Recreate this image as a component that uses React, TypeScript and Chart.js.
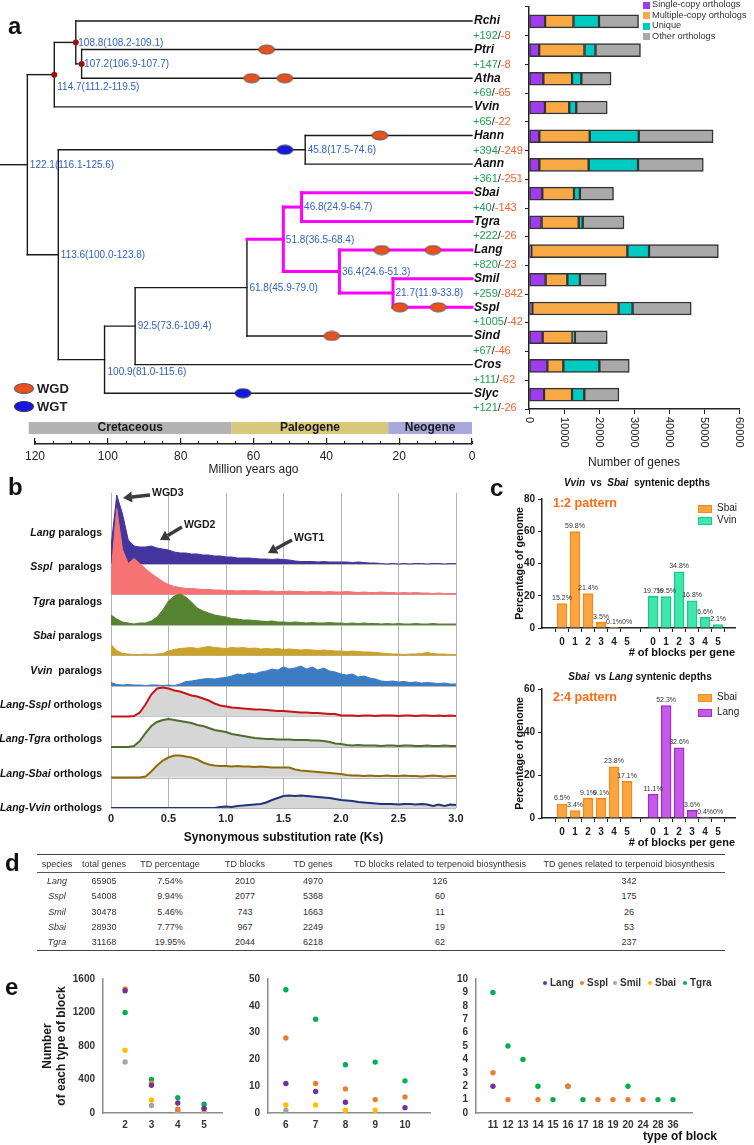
import React, { useEffect, useRef } from 'react';
import { Chart, registerables } from 'chart.js';

Chart.register(...registerables);

const FONT = "'Liberation Sans', Arial, Helvetica, sans-serif";
Chart.defaults.font.family = FONT;
Chart.defaults.color = '#222';

// ---------------- Panel a: dated phylogeny ----------------
const species = ['Rchi', 'Ptri', 'Atha', 'Vvin', 'Hann', 'Aann', 'Sbai', 'Tgra', 'Lang', 'Smil', 'Sspl', 'Sind', 'Cros', 'Slyc'];
const gainedFamilies = [192, 147, 69, 65, 394, 361, 40, 222, 820, 259, 1005, 67, 111, 121];
const lostFamilies = [8, 8, 65, 22, 249, 251, 143, 26, 23, 842, 42, 46, 62, 26];

const nodeIds = ['n107', 'n108', 'n114', 'n45', 'n46', 'n21', 'n36', 'n51', 'n61', 'n92', 'n100', 'n113', 'root'];
const nodeAges = [107.2, 108.8, 114.7, 45.8, 46.8, 21.7, 36.4, 51.8, 61.8, 92.5, 100.9, 113.6, 122.1];
const nodeLow = [106.9, 108.2, 111.2, 17.5, 24.9, 11.9, 24.6, 36.5, 45.9, 73.6, 81.0, 100.0, 116.1];
const nodeHigh = [107.7, 109.1, 119.5, 74.6, 64.7, 33.8, 51.3, 68.4, 79.0, 109.4, 115.6, 123.8, 125.6];
const nodeChildA = ['Ptri', 'Rchi', 'n108', 'Hann', 'Sbai', 'Smil', 'Lang', 'n46', 'n51', 'n61', 'n92', 'n45', 'n114'];
const nodeChildB = ['Atha', 'n107', 'Vvin', 'Aann', 'Tgra', 'Sspl', 'n21', 'n36', 'Sind', 'Cros', 'Slyc', 'n100', 'n113'];
const calibratedNodes = ['root', 'n114', 'n108', 'n107'];
const labelBelowNodes = ['n114', 'n100'];
const highlightedClade = 'n51';
const rootStemAge = 130;

const eventBranch = ['Ptri', 'Atha', 'Atha', 'Hann', 'n45', 'root', 'Lang', 'Lang', 'Sspl', 'Sspl', 'Sind', 'Slyc'];
const eventAge = [56.4, 60.5, 51.4, 25.3, 51.4, 126, 24.8, 10.7, 19.8, 9.3, 38.5, 62.9];
const eventType = ['WGD', 'WGD', 'WGD', 'WGD', 'WGT', 'WGT', 'WGD', 'WGD', 'WGD', 'WGD', 'WGD', 'WGT'];

const eraNames = ['Cretaceous', 'Paleogene', 'Neogene'];
const eraStart = [121.7, 66, 23];
const eraEnd = [66, 23, 0];
const eraColors = ['#b3b3b3', '#d9c77b', '#a8a8dd'];
const timeMajorTicks = [120, 100, 80, 60, 40, 20, 0];
const timeMinorTicks = [0, 5, 10, 15, 20, 25, 30, 35, 40, 45, 50, 55, 60, 65, 70, 75, 80, 85, 90, 95, 100, 105, 110, 115, 120];

// gene composition bars
const geneCategories = ['Single-copy orthologs', 'Multiple-copy orthologs', 'Unique', 'Other orthologs'];
const singleCopy = [4600, 2900, 4100, 4550, 2950, 2950, 3800, 3600, 650, 4750, 950, 3900, 5250, 4300];
const multiCopy = [8100, 12950, 8200, 6950, 14400, 14100, 9050, 10600, 27450, 6200, 24650, 8550, 4550, 8000];
const uniqueGenes = [7300, 3150, 2650, 2000, 14000, 14100, 1700, 1150, 6200, 3600, 4000, 650, 10300, 3500];
const otherOrthologs = [11300, 12850, 8500, 8850, 21250, 18650, 9600, 11800, 19800, 7500, 16750, 9250, 8550, 9900];
const geneColors = ['#a03cf0', '#f9a846', '#00cbc3', '#a9a9a9'];

// ---------------- Panel b: Ks distributions ----------------
const ksBins = [0, 0.05, 0.1, 0.15, 0.2, 0.25, 0.3, 0.35, 0.4, 0.45, 0.5, 0.55, 0.6, 0.65, 0.7, 0.75, 0.8, 0.85, 0.9, 0.95, 1, 1.05, 1.1, 1.15, 1.2, 1.25, 1.3, 1.35, 1.4, 1.45, 1.5, 1.55, 1.6, 1.65, 1.7, 1.75, 1.8, 1.85, 1.9, 1.95, 2, 2.05, 2.1, 2.15, 2.2, 2.25, 2.3, 2.35, 2.4, 2.45, 2.5, 2.55, 2.6, 2.65, 2.7, 2.75, 2.8, 2.85, 2.9, 2.95, 3];
const langParalogs = [1.7, 6.9, 5.0, 2.4, 1.8, 1.7, 1.7, 1.8, 1.6, 1.5, 1.4, 1.2, 1.1, 1.1, 1.0, 1.0, 0.9, 0.9, 0.8, 0.8, 0.7, 0.7, 0.6, 0.6, 0.6, 0.55, 0.5, 0.5, 0.45, 0.5, 0.45, 0.4, 0.3, 0.25, 0.25, 0.25, 0.2, 0.25, 0.2, 0.2, 0.2, 0.2, 0.15, 0.2, 0.15, 0.1, 0.1, 0.05, 0, 0.05, 0, 0.05, 0, 0.05, 0.05, 0, 0.05, 0.05, 0, 0.05, 0.05];
const ssplParalogs = [2.1, 8.6, 4.5, 3.1, 3.6, 3.1, 2.6, 2.1, 1.7, 1.3, 1.0, 0.8, 0.7, 0.6, 0.6, 0.55, 0.5, 0.5, 0.45, 0.45, 0.4, 0.4, 0.35, 0.4, 0.35, 0.4, 0.35, 0.3, 0.35, 0.3, 0.3, 0.35, 0.3, 0.3, 0.25, 0.3, 0.3, 0.25, 0.3, 0.25, 0.25, 0.3, 0.25, 0.2, 0.25, 0.2, 0.2, 0.25, 0.2, 0.2, 0.15, 0.2, 0.15, 0.2, 0.15, 0.15, 0.1, 0.15, 0.1, 0.1, 0.1];
const tgraParalogs = [1.0, 0.6, 0.3, 0.2, 0.1, 0.2, 0.2, 0.4, 0.8, 1.5, 2.4, 2.9, 3.1, 2.8, 2.3, 1.7, 1.4, 1.2, 1.0, 0.9, 0.8, 0.65, 0.6, 0.5, 0.5, 0.45, 0.4, 0.35, 0.4, 0.3, 0.3, 0.25, 0.3, 0.25, 0.2, 0.25, 0.2, 0.2, 0.25, 0.2, 0.2, 0.15, 0.2, 0.15, 0.2, 0.15, 0.15, 0.1, 0.15, 0.1, 0.15, 0.1, 0.1, 0.15, 0.1, 0.1, 0.15, 0.1, 0.1, 0.1, 0.1];
const sbaiParalogs = [1.1, 0.5, 0.2, 0.15, 0.1, 0.1, 0.15, 0.1, 0.15, 0.2, 0.45, 0.6, 0.7, 0.75, 0.8, 0.7, 0.8, 0.9, 0.8, 0.75, 0.7, 0.8, 0.75, 0.8, 0.7, 0.75, 0.65, 0.7, 0.65, 0.7, 0.6, 0.65, 0.6, 0.55, 0.6, 0.55, 0.5, 0.55, 0.5, 0.45, 0.45, 0.4, 0.45, 0.4, 0.35, 0.35, 0.3, 0.25, 0.2, 0.15, 0.15, 0.1, 0.15, 0.15, 0.2, 0.3, 0.2, 0.15, 0.15, 0.1, 0.1];
const vvinParalogs = [0.35, 0.15, 0.1, 0.15, 0.1, 0.1, 0.05, 0.1, 0.1, 0.05, 0.1, 0.05, 0.2, 0.45, 0.5, 0.6, 0.7, 0.75, 0.7, 0.8, 0.85, 1.0, 1.2, 1.1, 1.3, 1.2, 1.4, 1.5, 1.7, 1.6, 1.9, 1.7, 1.8, 2.0, 1.7, 1.9, 1.6, 1.8, 1.5, 1.4, 1.2, 1.1, 1.2, 0.9, 1.0, 0.8, 0.7, 0.5, 0.45, 0.5, 0.4, 0.45, 0.35, 0.4, 0.3, 0.35, 0.3, 0.25, 0.3, 0.2, 0.2];
const langSsplOrthologs = [0, 0, 0, 0, 0.05, 0.4, 1.2, 2.2, 2.8, 2.9, 2.8, 2.6, 2.5, 2.3, 2.1, 2.0, 1.8, 1.6, 1.3, 1.1, 1.0, 0.9, 0.85, 0.8, 0.75, 0.7, 0.7, 0.65, 0.6, 0.55, 0.55, 0.5, 0.45, 0.4, 0.4, 0.35, 0.35, 0.3, 0.25, 0.25, 0.1, 0.1, 0.1, 0.05, 0.1, 0.1, 0.05, 0.1, 0.1, 0.1, 0.05, 0.1, 0.1, 0.05, 0.1, 0.1, 0.05, 0.1, 0.05, 0.1, 0.05];
const langTgraOrthologs = [0, 0, 0, 0, 0.1, 0.6, 1.4, 2.1, 2.5, 2.7, 2.8, 2.7, 2.6, 2.5, 2.4, 2.2, 2.1, 1.9, 1.7, 1.6, 1.5, 1.3, 1.2, 1.1, 1.0, 0.9, 0.85, 0.8, 0.8, 0.75, 0.75, 0.75, 0.7, 0.7, 0.7, 0.65, 0.65, 0.6, 0.5, 0.35, 0.3, 0.2, 0.15, 0.2, 0.15, 0.15, 0.15, 0.1, 0.15, 0.15, 0.1, 0.15, 0.15, 0.1, 0.1, 0.15, 0.1, 0.1, 0.15, 0.1, 0.1];
const langSbaiOrthologs = [0, 0, 0, 0, 0, 0, 0.1, 0.6, 1.2, 1.7, 2.0, 2.2, 2.2, 2.1, 2.0, 1.8, 1.5, 1.3, 1.2, 1.15, 1.15, 1.1, 1.15, 1.1, 1.1, 1.05, 1.1, 1.05, 1.0, 1.0, 1.0, 1.0, 0.8, 0.7, 0.65, 0.6, 0.55, 0.5, 0.45, 0.4, 0.35, 0.25, 0.2, 0.2, 0.15, 0.2, 0.15, 0.15, 0.2, 0.15, 0.15, 0.2, 0.15, 0.15, 0.1, 0.15, 0.2, 0.15, 0.1, 0.15, 0.15];
const langVvinOrthologs = [0, 0, 0, 0, 0, 0, 0, 0, 0, 0, 0, 0, 0, 0, 0, 0, 0, 0, 0, 0.1, 0.15, 0.1, 0.2, 0.25, 0.3, 0.35, 0.4, 0.55, 0.8, 1.0, 1.2, 1.25, 1.2, 1.25, 1.2, 1.15, 1.1, 1.05, 1.0, 0.9, 0.8, 0.75, 0.7, 0.6, 0.55, 0.5, 0.45, 0.4, 0.4, 0.4, 0.35, 0.4, 0.4, 0.35, 0.4, 0.35, 0.2, 0.35, 0.2, 0.35, 0.3];
const ksRowNames = ['Lang', 'Sspl', 'Tgra', 'Sbai', 'Vvin', 'Lang-Sspl', 'Lang-Tgra', 'Lang-Sbai', 'Lang-Vvin'];
const ksRowKinds = ['paralogs', 'paralogs', 'paralogs', 'paralogs', 'paralogs', 'orthologs', 'orthologs', 'orthologs', 'orthologs'];
const ksFill = ['#43359d', '#f57373', '#568330', '#caa22a', '#3c7cc2', '#d6d6d6', '#d6d6d6', '#d6d6d6', '#d6d6d6'];
const ksLine = ['#43359d', '#f57373', '#568330', '#caa22a', '#3c7cc2', '#c81414', '#4d6e2b', '#8e6b0e', '#1f3479'];
const ksArrowLabels = ['WGD3', 'WGD2', 'WGT1'];
const ksArrowTipKs = [0.104, 0.426, 1.365];
const ksArrowTipY = [6.6, 2.4, 1.1];
const ksArrowTailKs = [0.339, 0.617, 1.574];
const ksArrowTailY = [6.9, 3.7, 2.4];

// ---------------- Panel c: syntenic depth ----------------
const depthBlocks = [0, 1, 2, 3, 4, 5];
const sbaiDepthVsVvin = [15.2, 59.8, 21.4, 3.5, 0.1, 0];
const vvinDepthVsSbai = [19.7, 19.5, 34.8, 16.8, 6.6, 2.1];
const sbaiDepthVsLang = [6.5, 3.4, 9.1, 9.1, 23.8, 17.1];
const langDepthVsSbai = [11.1, 52.3, 32.6, 3.6, 0.4, 0];

// ---------------- Panel d: tandem duplication table ----------------
const tableHeader = ['species', 'total genes', 'TD percentage', 'TD blocks', 'TD genes', 'TD blocks related to terpenoid biosynthesis', 'TD genes related to terpenoid biosynthesis'];
const tdSpecies = ['Lang', 'Sspl', 'Smil', 'Sbai', 'Tgra'];
const totalGenes = [65905, 54008, 30478, 28930, 31168];
const tdPercentage = [7.54, 9.94, 5.46, 7.77, 19.95];
const tdBlocks = [2010, 2077, 743, 967, 2044];
const tdGenes = [4970, 5368, 1663, 2249, 6218];
const tdBlocksTerpenoid = [126, 60, 11, 19, 62];
const tdGenesTerpenoid = [342, 175, 26, 53, 237];

// ---------------- Panel e: block types ----------------
const blockSpecies = ['Lang', 'Sspl', 'Smil', 'Sbai', 'Tgra'];
const blockColors = ['#7030a0', '#ed7d31', '#a5a5a5', '#ffc000', '#00b050'];
const blockTypesA = [2, 3, 4, 5];
const langBlocksA = [1460, 330, 120, 55];
const ssplBlocksA = [1480, 355, 45, 50];
const smilBlocksA = [610, 90, 15, 5];
const sbaiBlocksA = [750, 155, 37, 8];
const tgraBlocksA = [1200, 400, 183, 105];
const blockTypesB = [6, 7, 8, 9, 10];
const langBlocksB = [11, 8, 4, null, 2];
const ssplBlocksB = [28, 11, 9, 5, 6];
const smilBlocksB = [1, null, null, null, null];
const sbaiBlocksB = [3, 3, 1, 1, null];
const tgraBlocksB = [46, 35, 18, 19, 12];
const blockTypesC = ['11', '12', '13', '14', '15', '16', '17', '18', '19', '20', '24', '28', '36'];
const langBlocksC = [2, null, null, null, null, null, null, null, null, null, null, null, null];
const ssplBlocksC = [3, 1, null, 1, null, 2, null, 1, 1, 1, 1, null, null];
const smilBlocksC = [null, null, null, null, null, null, null, null, null, null, null, null, null];
const sbaiBlocksC = [null, null, null, null, null, null, null, null, null, null, null, null, null];
const tgraBlocksC = [9, 5, 4, 2, 1, 2, 1, null, null, 2, null, 1, 1];

// ---------------- tree helpers ----------------
const childMap: Record<string, string[]> = {};
nodeIds.forEach((id, k) => { childMap[id] = [nodeChildA[k], nodeChildB[k]]; });
const parentOf: Record<string, string> = {};
nodeIds.forEach((id, k) => { parentOf[nodeChildA[k]] = id; parentOf[nodeChildB[k]] = id; });
function ageOf(n: string): number { const k = nodeIds.indexOf(n); return k < 0 ? 0 : nodeAges[k]; }
function rowOf(n: string): number {
  const i = species.indexOf(n);
  if (i >= 0) return i;
  const c = childMap[n];
  return (rowOf(c[0]) + rowOf(c[1])) / 2;
}

function ellipseImage(fill: string, stroke: string, w: number, h: number) {
  const c = document.createElement('canvas');
  c.width = w + 2; c.height = h + 2;
  const g = c.getContext('2d')!;
  g.beginPath();
  g.ellipse((w + 2) / 2, (h + 2) / 2, w / 2, h / 2, 0, 0, Math.PI * 2);
  g.fillStyle = fill; g.fill();
  g.lineWidth = 1; g.strokeStyle = stroke; g.stroke();
  return c;
}

const treeDecor = {
  id: 'treeDecor',
  afterDatasetsDraw(chart: any) {
    const { ctx, chartArea } = chart;
    const xs = chart.scales.x, ys = chart.scales.y;
    ctx.save();
    eraNames.forEach((name, i) => {
      const x1 = xs.getPixelForValue(eraStart[i]);
      const x2 = xs.getPixelForValue(eraEnd[i]);
      ctx.fillStyle = eraColors[i];
      ctx.fillRect(x1, chartArea.bottom - 22, x2 - x1, 12);
      ctx.fillStyle = '#1a1a1a';
      ctx.font = `bold 12px ${FONT}`;
      ctx.textAlign = 'center'; ctx.textBaseline = 'middle';
      ctx.fillText(name, (x1 + x2) / 2, chartArea.bottom - 16);
    });
    ctx.font = `10px ${FONT}`; ctx.fillStyle = '#2f62c4';
    ctx.textAlign = 'left'; ctx.textBaseline = 'middle';
    nodeIds.forEach((id, k) => {
      const below = labelBelowNodes.includes(id);
      const txt = `${nodeAges[k].toFixed(1)}(${nodeLow[k].toFixed(1)}-${nodeHigh[k].toFixed(1)})`;
      ctx.fillText(txt, xs.getPixelForValue(nodeAges[k]) + (below ? 3 : 2.5), ys.getPixelForValue(rowOf(id)) + (below ? 13 : 0.5));
    });
    const x0 = xs.getPixelForValue(0);
    species.forEach((s, i) => {
      const y = ys.getPixelForValue(i);
      ctx.font = `italic bold 12px ${FONT}`; ctx.fillStyle = '#111';
      ctx.fillText(s, x0 + 2, y);
      ctx.font = `11px ${FONT}`;
      let x = x0 + 1;
      const parts: [string, string][] = [[`+${gainedFamilies[i]}`, '#1e9e50'], ['/', '#222'], [`-${lostFamilies[i]}`, '#f2602c']];
      parts.forEach(([t, col]) => { ctx.fillStyle = col; ctx.fillText(t, x, y + 15); x += ctx.measureText(t).width; });
    });
    ctx.restore();
  },
};

function makeTreeConfig() {
  const hl = new Set<string>();
  const mark = (n: string) => { hl.add(n); (childMap[n] || []).forEach(mark); };
  mark(highlightedClade);
  const ds: any[] = [];
  const seg = (pts: any[], on: boolean) => ds.push({
    data: pts, showLine: true, borderColor: on ? '#ff00ff' : '#1a1a1a', borderWidth: on ? 3 : 1.4,
    pointRadius: 0, clip: false, borderCapStyle: 'square', order: 2,
  });
  [...species, ...nodeIds].forEach((n) => {
    const p = parentOf[n];
    if (p) seg([{ x: ageOf(p), y: rowOf(n) }, { x: ageOf(n), y: rowOf(n) }], hl.has(n));
  });
  nodeIds.forEach((id, k) => seg([{ x: nodeAges[k], y: rowOf(nodeChildA[k]) }, { x: nodeAges[k], y: rowOf(nodeChildB[k]) }], hl.has(id)));
  seg([{ x: rootStemAge, y: rowOf('root') }, { x: ageOf('root'), y: rowOf('root') }], false);
  ds.push({ data: calibratedNodes.map((n) => ({ x: ageOf(n), y: rowOf(n) })), pointRadius: 3, pointBackgroundColor: '#9c1111', pointBorderWidth: 0, showLine: false, clip: false, order: 1 });
  const wgd = ellipseImage('#e8501e', '#5a5a5a', 16, 9);
  const wgt = ellipseImage('#1616e6', '#333', 16, 9);
  ['WGD', 'WGT'].forEach((t) => {
    ds.push({
      data: eventType.map((et, i) => (et === t ? { x: eventAge[i], y: rowOf(eventBranch[i]) } : null)).filter(Boolean),
      pointStyle: t === 'WGD' ? wgd : wgt, pointRadius: 6, showLine: false, clip: false, order: 0,
    });
  });
  return {
    type: 'scatter',
    data: { datasets: ds },
    options: {
      responsive: false, animation: false, events: [],
      layout: { padding: { left: 35, right: 58, top: 5, bottom: 0 } },
      plugins: { legend: { display: false }, tooltip: { enabled: false } },
      scales: {
        x: {
          type: 'linear', reverse: true, min: 0, max: 120, position: 'bottom', weight: 0,
          afterBuildTicks: (s: any) => { s.ticks = timeMajorTicks.map((v) => ({ value: v })); },
          ticks: { font: { size: 12 }, color: '#222', padding: 11, maxRotation: 0, autoSkip: false, callback: (v: number) => String(v) },
          grid: { drawOnChartArea: false, drawTicks: true, tickLength: -6, color: '#222', lineWidth: 1.2 },
          border: { display: true, color: '#222', width: 1.5 },
          title: { display: true, text: 'Million years ago', font: { size: 12 }, color: '#222', padding: { top: 0, bottom: 3 } },
          afterFit: (s: any) => { s.height = 36; },
        },
        x2: {
          type: 'linear', reverse: true, min: 0, max: 120, position: 'bottom', weight: -1,
          afterBuildTicks: (s: any) => { s.ticks = timeMinorTicks.map((v) => ({ value: v })); },
          ticks: { display: false },
          grid: { drawOnChartArea: false, drawTicks: true, tickLength: -3, color: '#222', lineWidth: 1 },
          border: { display: false },
          afterFit: (s: any) => { s.height = 0; },
        },
        y: { type: 'linear', display: false, reverse: true, min: -0.4866, max: 14.773 },
      },
    },
    plugins: [treeDecor],
  };
}

const rotatedXTicks = {
  id: 'rotatedXTicks',
  afterDraw(chart: any) {
    const xs = chart.scales.x; const ctx = chart.ctx;
    ctx.save();
    ctx.font = `11px ${FONT}`; ctx.fillStyle = '#222'; ctx.textAlign = 'left'; ctx.textBaseline = 'middle';
    xs.ticks.forEach((t: any) => {
      const px = xs.getPixelForValue(t.value);
      ctx.save(); ctx.translate(px, xs.top + 8); ctx.rotate(Math.PI / 2);
      ctx.fillText(String(t.value), 0, 0);
      ctx.restore();
    });
    ctx.restore();
  },
};

function makeGeneBarConfig() {
  const series = [singleCopy, multiCopy, uniqueGenes, otherOrthologs];
  return {
    type: 'bar',
    data: {
      labels: species,
      datasets: series.map((vals, k) => ({
        label: geneCategories[k], data: vals, backgroundColor: geneColors[k], borderColor: '#333',
        borderWidth: 1.5, borderSkipped: false, barThickness: 13,
      })),
    },
    options: {
      indexAxis: 'y', responsive: false, animation: false, events: [],
      layout: { padding: { left: 0, right: 15, top: 7, bottom: 0 } },
      plugins: { legend: { display: false }, tooltip: { enabled: false } },
      scales: {
        x: {
          stacked: true, min: 0, max: 60000, ticks: { stepSize: 10000, display: false },
          grid: { drawOnChartArea: false, tickLength: 5, color: '#222' }, border: { color: '#222', width: 1.5 },
          title: { display: true, text: 'Number of genes', font: { size: 12 }, color: '#222', padding: { top: 0, bottom: 10 } },
          afterFit: (s: any) => { s.height = 71; },
        },
        y: {
          stacked: true, ticks: { display: false },
          grid: { offset: true, drawOnChartArea: false, tickLength: 4, color: '#222' }, border: { color: '#222', width: 1.5 },
          afterFit: (s: any) => { s.width = 39; },
        },
      },
    },
    plugins: [rotatedXTicks],
  };
}

// ---------------- Ks chart ----------------
const KS_ROW_FIRST = 71;
const KS_ROW_GAP = 30.5;
const KS_PLOT_H = 315;
const KS_PX_PER_UNIT = 10;

const ksDecor = {
  id: 'ksDecor',
  beforeDatasetsDraw(chart: any) {
    const { ctx, chartArea } = chart;
    ctx.save(); ctx.strokeStyle = '#b9b9b9'; ctx.lineWidth = 1;
    ksRowNames.forEach((_, i) => {
      const y = Math.round(chart.scales['y' + i].getPixelForValue(0)) + 0.5;
      ctx.beginPath(); ctx.moveTo(chartArea.left, y); ctx.lineTo(chartArea.right, y); ctx.stroke();
    });
    ctx.restore();
  },
  afterDatasetsDraw(chart: any) {
    const ctx = chart.ctx; const xs = chart.scales.x; const ys = chart.scales.y0;
    ctx.save();
    ksArrowLabels.forEach((lab, k) => {
      const x1 = xs.getPixelForValue(ksArrowTailKs[k]), y1 = ys.getPixelForValue(ksArrowTailY[k]);
      const x2 = xs.getPixelForValue(ksArrowTipKs[k]), y2 = ys.getPixelForValue(ksArrowTipY[k]);
      const ang = Math.atan2(y2 - y1, x2 - x1); const head = 9;
      const bx = x2 - head * Math.cos(ang), by = y2 - head * Math.sin(ang);
      ctx.strokeStyle = '#3b3b3b'; ctx.fillStyle = '#3b3b3b'; ctx.lineWidth = 3.5;
      ctx.beginPath(); ctx.moveTo(x1, y1); ctx.lineTo(bx, by); ctx.stroke();
      ctx.beginPath(); ctx.moveTo(x2, y2);
      ctx.lineTo(bx + 5.5 * Math.sin(ang), by - 5.5 * Math.cos(ang));
      ctx.lineTo(bx - 5.5 * Math.sin(ang), by + 5.5 * Math.cos(ang));
      ctx.closePath(); ctx.fill();
      ctx.font = `bold 10.5px ${FONT}`; ctx.textAlign = 'left'; ctx.textBaseline = 'middle'; ctx.fillStyle = '#1a1a1a';
      ctx.fillText(lab, x1 + 2, y1 - 2);
    });
    ctx.restore();
  },
};

function makeKsConfig() {
  const series = [langParalogs, ssplParalogs, tgraParalogs, sbaiParalogs, vvinParalogs, langSsplOrthologs, langTgraOrthologs, langSbaiOrthologs, langVvinOrthologs];
  const scales: any = {
    x: {
      type: 'linear', min: 0, max: 3.0,
      ticks: { stepSize: 0.5, callback: (v: number) => (v === 0 ? '0' : v.toFixed(1)), font: { size: 11, weight: 'bold' }, color: '#222', padding: 4, maxRotation: 0 },
      grid: { color: '#b4b4b4', drawTicks: false, lineWidth: 1 }, border: { display: false },
      title: { display: true, text: 'Synonymous substitution rate (Ks)', font: { size: 12, weight: 'bold' }, color: '#111', padding: { top: 0, bottom: 5 } },
      afterFit: (s: any) => { s.height = 42; },
    },
  };
  series.forEach((_, i) => {
    const off = KS_ROW_FIRST + KS_ROW_GAP * i;
    scales['y' + i] = { type: 'linear', display: false, position: 'left', min: -(KS_PLOT_H - off) / KS_PX_PER_UNIT, max: off / KS_PX_PER_UNIT };
  });
  return {
    type: 'line',
    data: {
      datasets: series.map((vals, i) => ({
        label: ksRowNames[i], data: ksBins.map((k, j) => ({ x: k, y: vals[j] })), yAxisID: 'y' + i,
        borderColor: ksLine[i], backgroundColor: ksFill[i], fill: 'origin', borderWidth: i < 5 ? 1 : 2,
        pointRadius: 0, tension: 0, order: -i,
      })),
    },
    options: {
      responsive: false, animation: false, events: [],
      layout: { padding: { left: 11, right: 14, top: 8, bottom: 0 } },
      plugins: { legend: { display: false }, tooltip: { enabled: false } },
      scales,
    },
    plugins: [ksDecor],
  };
}

// ---------------- depth bar charts ----------------
const depthLabels = {
  id: 'depthLabels',
  afterDatasetsDraw(chart: any) {
    const ctx = chart.ctx;
    ctx.save(); ctx.font = `7px ${FONT}`; ctx.fillStyle = '#333'; ctx.textAlign = 'center'; ctx.textBaseline = 'bottom';
    chart.data.datasets.forEach((d: any, di: number) => {
      chart.getDatasetMeta(di).data.forEach((el: any, j: number) => { ctx.fillText(`${d.data[j].y}%`, el.x, el.y - 2); });
    });
    ctx.restore();
  },
};

function makeDepthConfig(aName: string, aVals: number[], aFill: string, aBorder: string, bName: string, bVals: number[], bFill: string, bBorder: string, yMax: number) {
  const gap = depthBlocks.length + 1;
  const xa = depthBlocks.map((b) => b);
  const xb = depthBlocks.map((b) => b + gap);
  return {
    type: 'bar',
    data: {
      datasets: [
        { label: aName, data: aVals.map((v, i) => ({ x: xa[i], y: v })), backgroundColor: aFill, borderColor: aBorder, borderWidth: 1.5, barThickness: 10, grouped: false },
        { label: bName, data: bVals.map((v, i) => ({ x: xb[i], y: v })), backgroundColor: bFill, borderColor: bBorder, borderWidth: 1.5, barThickness: 10, grouped: false },
      ],
    },
    options: {
      responsive: false, animation: false, events: [],
      layout: { padding: { left: 0, right: 19, top: 9, bottom: 0 } },
      plugins: { legend: { display: false }, tooltip: { enabled: false } },
      scales: {
        x: {
          type: 'linear', min: -0.92, max: 12.68,
          afterBuildTicks: (s: any) => { s.ticks = [...xa, ...xb].map((v) => ({ value: v })); },
          ticks: { callback: (v: number) => String(v >= gap ? v - gap : v), font: { size: 10, weight: 'bold' }, color: '#222', padding: 4, maxRotation: 0, autoSkip: false },
          grid: { drawOnChartArea: false, tickLength: 4, color: '#222' }, border: { color: '#222', width: 1.5 },
          title: { display: true, text: '# of blocks per gene', align: 'end', font: { size: 11, weight: 'bold' }, color: '#111', padding: { top: 0, bottom: 0 } },
          afterFit: (s: any) => { s.height = 32; },
        },
        y: {
          min: 0, max: yMax, ticks: { stepSize: 20, font: { size: 10, weight: 'bold' }, color: '#222', padding: 3, callback: (v: number) => String(v) },
          grid: { drawOnChartArea: false, tickLength: 4, color: '#222' }, border: { color: '#222', width: 1.5 },
          title: { display: true, text: 'Percentage of genome', font: { size: 10.5, weight: 'bold' }, color: '#111', padding: { top: 34, bottom: 0 } },
          afterFit: (s: any) => { s.width = 62; },
        },
      },
    },
    plugins: [depthLabels],
  };
}

// ---------------- block scatter charts ----------------
function makeBlockConfig(xLabels: string[], xVals: number[], series: (number | null)[][], yMax: number, yStep: number, xMin: number, xMax: number, yWidth: number, padRight: number, yTitle: any) {
  return {
    type: 'scatter',
    data: {
      datasets: series.map((vals, s) => ({
        label: blockSpecies[s],
        data: vals.map((v, i) => (v == null ? null : { x: xVals[i], y: v })).filter(Boolean),
        pointRadius: 2.7, pointBackgroundColor: blockColors[s], pointBorderWidth: 0,
      })),
    },
    options: {
      responsive: false, animation: false, events: [],
      layout: { padding: { left: 0, right: padRight, top: 12, bottom: 0 } },
      plugins: { legend: { display: false }, tooltip: { enabled: false } },
      scales: {
        x: {
          type: 'linear', min: xMin, max: xMax,
          afterBuildTicks: (s: any) => { s.ticks = xVals.map((v) => ({ value: v })); },
          ticks: { callback: (v: number) => xLabels[xVals.indexOf(v)] ?? '', font: { size: 10, weight: 'bold' }, color: '#333', padding: 6, maxRotation: 0, autoSkip: false },
          grid: { drawOnChartArea: false, drawTicks: false }, border: { color: '#8c8c8c', width: 1.5 },
          afterFit: (s: any) => { s.height = 27; },
        },
        y: {
          type: 'linear', min: 0, max: yMax,
          ticks: { stepSize: yStep, autoSkip: false, font: { size: 10, weight: 'bold' }, color: '#333', padding: 8, callback: (v: number) => String(v) },
          grid: { drawOnChartArea: false, drawTicks: false }, border: { color: '#8c8c8c', width: 1.5 },
          title: yTitle ? { display: true, text: yTitle, font: { size: 12, weight: 'bold' }, color: '#1a1a1a', padding: { top: 20, bottom: 0 } } : { display: false },
          afterFit: (s: any) => { s.width = yWidth; },
        },
      },
    },
  };
}

// ---------------- React ----------------
function ChartCanvas({ x, y, w, h, make }: { x: number; y: number; w: number; h: number; make: () => any }) {
  const ref = useRef<HTMLCanvasElement>(null);
  useEffect(() => {
    const chart = new Chart(ref.current as HTMLCanvasElement, make());
    return () => chart.destroy();
  }, []);
  return <canvas ref={ref} width={w} height={h} style={{ position: 'absolute', left: x, top: y, width: w, height: h }} />;
}

function T({ x, y, a = 'l', s = {}, children }: any) {
  const tx = a === 'l' ? '0' : a === 'c' ? '-50%' : '-100%';
  return (
    <div style={{ position: 'absolute', left: x, top: y, transform: `translate(${tx},-50%)`, whiteSpace: 'nowrap', lineHeight: 1, ...s }}>
      {children}
    </div>
  );
}

const letter = { fontWeight: 'bold', fontSize: 24, color: '#111' };
const tableCols = [57, 104, 170, 245, 313, 440, 629];

export default function App() {
  const tableRows = tdSpecies.map((s, i) => [s, String(totalGenes[i]), `${tdPercentage[i].toFixed(2)}%`, String(tdBlocks[i]), String(tdGenes[i]), String(tdBlocksTerpenoid[i]), String(tdGenesTerpenoid[i])]);
  return (
    <div style={{ position: 'relative', width: 754, height: 1145, background: '#fff', fontFamily: FONT, color: '#222', overflow: 'hidden' }}>
      <style>{'html,body{margin:0;padding:0;background:#fff}'}</style>

      {/* panel a */}
      <ChartCanvas x={0} y={0} w={530} h={480} make={makeTreeConfig} />
      <ChartCanvas x={490} y={0} w={264} h={480} make={makeGeneBarConfig} />
      <T x={8} y={26} s={letter}>a</T>
      {geneCategories.map((c, k) => (
        <React.Fragment key={c}>
          <div style={{ position: 'absolute', left: 643, top: 1.5 + k * 10.5, width: 7, height: 7, background: geneColors[k] }} />
          <T x={652} y={5 + k * 10.5} s={{ fontSize: 9.2, color: '#333' }}>{c}</T>
        </React.Fragment>
      ))}
      <div style={{ position: 'absolute', left: 14, top: 382.5, width: 20, height: 11, borderRadius: '50%', background: '#e8501e', border: '1px solid #5a5a5a', boxSizing: 'border-box' }} />
      <T x={37} y={388} s={{ fontWeight: 'bold', fontSize: 13 }}>WGD</T>
      <div style={{ position: 'absolute', left: 14, top: 400.5, width: 20, height: 11, borderRadius: '50%', background: '#1616e6', border: '1px solid #333', boxSizing: 'border-box' }} />
      <T x={37} y={406} s={{ fontWeight: 'bold', fontSize: 13 }}>WGT</T>

      {/* panel b */}
      <T x={8} y={487} s={letter}>b</T>
      <ChartCanvas x={100} y={485} w={370} h={365} make={makeKsConfig} />
      {ksRowNames.map((n, i) => (
        <T key={n} x={102} y={532 + 34.4 * i} a="r" s={{ fontWeight: 'bold', fontSize: 10.5, color: '#111' }}>
          <i>{n}</i>{'\u00a0'}{i === 1 || i === 4 ? '\u00a0' : ''}{ksRowKinds[i]}
        </T>
      ))}

      {/* panel c */}
      <T x={490} y={488} s={letter}>c</T>
      <T x={637} y={483} a="c" s={{ fontWeight: 'bold', fontSize: 10, color: '#111' }}><i>Vvin</i>{'\u00a0\u00a0'}vs{'\u00a0\u00a0'}<i>Sbai</i>{'\u00a0\u00a0'}syntenic depths</T>
      <ChartCanvas x={480} y={490} w={274} h={170} make={() => makeDepthConfig('Sbai', sbaiDepthVsVvin, '#faa540', '#f28b1e', 'Vvin', vvinDepthVsSbai, '#40e6aa', '#1cc98c', 80)} />
      <T x={553} y={503} s={{ fontWeight: 'bold', fontSize: 12.5, color: '#ff6a13' }}>1:2 pattern</T>
      <div style={{ position: 'absolute', left: 698, top: 505, width: 12, height: 6, background: '#faa540', border: '1px solid #f28b1e' }} />
      <T x={717} y={508} s={{ fontSize: 10 }}>Sbai</T>
      <div style={{ position: 'absolute', left: 698, top: 517, width: 12, height: 6, background: '#40e6aa', border: '1px solid #1cc98c' }} />
      <T x={717} y={520} s={{ fontSize: 10 }}>Vvin</T>

      <T x={640} y={677} a="c" s={{ fontWeight: 'bold', fontSize: 10, color: '#111' }}><i>Sbai</i>{'\u00a0\u00a0'}vs{'\u00a0'}<i>Lang</i>{'\u00a0'}syntenic depths</T>
      <ChartCanvas x={480} y={680} w={274} h={170} make={() => makeDepthConfig('Sbai', sbaiDepthVsLang, '#faa540', '#f28b1e', 'Lang', langDepthVsSbai, '#c45ae6', '#a52bd0', 60)} />
      <T x={553} y={697} s={{ fontWeight: 'bold', fontSize: 12.5, color: '#ff6a13' }}>2:4 pattern</T>
      <div style={{ position: 'absolute', left: 698, top: 694, width: 12, height: 6, background: '#faa540', border: '1px solid #f28b1e' }} />
      <T x={717} y={697} s={{ fontSize: 10 }}>Sbai</T>
      <div style={{ position: 'absolute', left: 698, top: 709, width: 12, height: 6, background: '#c45ae6', border: '1px solid #a52bd0' }} />
      <T x={717} y={712} s={{ fontSize: 10 }}>Lang</T>

      {/* panel d */}
      <T x={5} y={863} s={letter}>d</T>
      <div style={{ position: 'absolute', left: 37, top: 854, width: 688, borderTop: '1.5px solid #444' }} />
      <div style={{ position: 'absolute', left: 37, top: 872, width: 688, borderTop: '1px solid #555' }} />
      <div style={{ position: 'absolute', left: 37, top: 950, width: 688, borderTop: '1.5px solid #444' }} />
      {tableHeader.map((h, c) => (
        <T key={h} x={tableCols[c]} y={864} a="c" s={{ fontSize: 9, color: '#333' }}>{h}</T>
      ))}
      {tableRows.map((row, r) => row.map((cell, c) => (
        <T key={`${r}-${c}`} x={tableCols[c]} y={881 + 15.25 * r} a="c" s={{ fontSize: 9, color: '#333', fontStyle: c === 0 ? 'italic' : 'normal' }}>{cell}</T>
      )))}

      {/* panel e */}
      <T x={5} y={987} s={letter}>e</T>
      <ChartCanvas x={20} y={965} w={215} h={175} make={() => makeBlockConfig(blockTypesA.map(String), blockTypesA, [langBlocksA, ssplBlocksA, smilBlocksA, sbaiBlocksA, tgraBlocksA], 1600, 400, 1.16, 5.68, 83, 13, ['Number', 'of each type of block'])} />
      <ChartCanvas x={240} y={965} w={200} h={175} make={() => makeBlockConfig(blockTypesB.map(String), blockTypesB, [langBlocksB, ssplBlocksB, smilBlocksB, sbaiBlocksB, tgraBlocksB], 50, 10, 5.4, 10.84, 28, 10, null)} />
      <ChartCanvas x={446} y={965} w={264} h={175} make={() => makeBlockConfig(blockTypesC, blockTypesC.map((_, i) => i), [langBlocksC, ssplBlocksC, smilBlocksC, sbaiBlocksC, tgraBlocksC], 10, 1, -1.13, 13.27, 30, 18, null)} />
      {blockSpecies.map((s, k) => {
        const lx = [545, 582, 615, 650, 685][k];
        return (
          <React.Fragment key={s}>
            <div style={{ position: 'absolute', left: lx - 2, top: 981, width: 4, height: 4, borderRadius: '50%', background: blockColors[k] }} />
            <T x={lx + 5} y={983} s={{ fontWeight: 'bold', fontSize: 10, color: '#333' }}>{s}</T>
          </React.Fragment>
        );
      })}
      <T x={717} y={1136} a="r" s={{ fontWeight: 'bold', fontSize: 12, color: '#111' }}>type of block</T>
    </div>
  );
}
